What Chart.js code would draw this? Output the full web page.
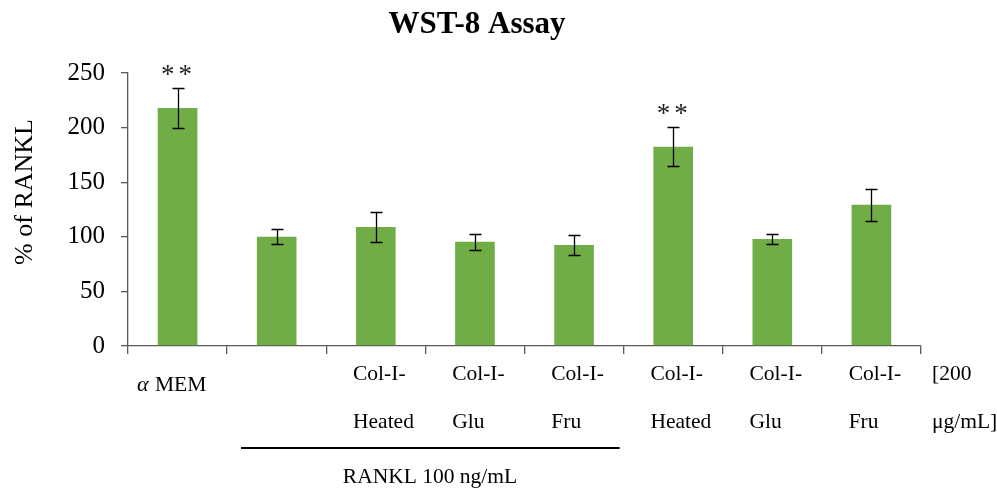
<!DOCTYPE html>
<html>
<head>
<meta charset="utf-8">
<script src="https://cdn.jsdelivr.net/npm/chart.js@4/dist/chart.umd.min.js"></script>
<style>
  html, body { margin: 0; padding: 0; background: #fff; }
  #wrap { width: 997px; height: 493px; position: relative; }
</style>
</head>
<body>
<div id="wrap"><canvas id="c" width="997" height="493"></canvas></div>
<script>
// Category labels (two lines each; first group drawn with a Greek alpha)
const categoryLine1 = ['MEM', '', 'Col-I-', 'Col-I-', 'Col-I-', 'Col-I-', 'Col-I-', 'Col-I-'];
const categoryLine2 = ['', '', 'Heated', 'Glu', 'Fru', 'Heated', 'Glu', 'Fru'];
// Mean cell viability (% of RANKL) and standard deviation
const viability = [218, 100, 109, 95.5, 92.5, 182.5, 98, 129.3];
const errors = [18, 7, 14, 7.2, 9.3, 18, 5, 14.5];
// Significance marks
const significance = ['**', '', '', '', '', '**', '', ''];
// Y axis ticks
const yTicks = [0, 50, 100, 150, 200, 250];
// Grouping bracket for RANKL-treated wells (first and last category index)
const rankGroup = { from: 1, to: 4, text: 'RANKL 100 ng/mL' };
const concText = ['[200', 'μg/mL]'];

const SERIF = '"Liberation Serif", "Times New Roman", serif';
const AXIS = '#595959';

const overlay = {
  id: 'overlay',
  afterDatasetsDraw(chart) {
    const ctx = chart.ctx;
    const y = chart.scales.y;
    const meta = chart.getDatasetMeta(0);
    ctx.save();
    // error bars
    ctx.strokeStyle = '#000';
    ctx.lineWidth = 1.3;
    meta.data.forEach((bar, i) => {
      const v = viability[i], e = errors[i];
      const yt = Math.round(y.getPixelForValue(v + e)) + 0.5;
      const yb = Math.round(y.getPixelForValue(v - e)) + 0.5;
      const cx = Math.round(bar.x) + 0.5;
      ctx.beginPath();
      ctx.moveTo(cx, yt); ctx.lineTo(cx, yb);
      ctx.moveTo(cx - 6, yt); ctx.lineTo(cx + 6, yt);
      ctx.moveTo(cx - 6, yb); ctx.lineTo(cx + 6, yb);
      ctx.stroke();
      if (significance[i]) {
        ctx.fillStyle = '#222';
        ctx.font = '27px ' + SERIF;
        ctx.letterSpacing = '4px';
        ctx.textAlign = 'center';
        ctx.textBaseline = 'alphabetic';
        ctx.fillText(significance[i], bar.x + 1, yt - 6);
        ctx.letterSpacing = '0px';
      }
    });
    ctx.restore();
  },
  afterDraw(chart) {
    const ctx = chart.ctx;
    const x = chart.scales.x;
    const area = chart.chartArea;
    const w = (area.right - area.left) / viability.length;
    ctx.save();
    ctx.fillStyle = '#000';
    // title
    ctx.font = 'bold 31px ' + SERIF;
    ctx.textAlign = 'center';
    ctx.textBaseline = 'alphabetic';
    ctx.fillText('WST-8 Assay', 477, 33);
    // y axis title
    ctx.save();
    ctx.translate(32, 192);
    ctx.rotate(-Math.PI / 2);
    ctx.font = '26px ' + SERIF;
    ctx.textAlign = 'center';
    ctx.fillText('% of RANKL', 0, 0);
    ctx.restore();
    // category labels, left aligned inside each category
    ctx.font = '21.5px ' + SERIF;
    ctx.textAlign = 'left';
    categoryLine1.forEach((t, i) => {
      const left = x.getPixelForValue(i) - w / 2;
      if (i === 0) {
        ctx.font = 'italic 22px ' + SERIF;
        ctx.fillText('α', left + 9, 391);
        ctx.font = '21.5px ' + SERIF;
        ctx.fillText(t, left + 27, 391);
        return;
      }
      const lx = left + 0.27 * w;
      if (t) ctx.fillText(t, lx, 380);
      if (categoryLine2[i]) ctx.fillText(categoryLine2[i], lx, 428);
    });
    // concentration note to the right of the axis
    ctx.fillText(concText[0], area.right + 11, 380);
    ctx.fillText(concText[1], area.right + 11, 428);
    // RANKL group bracket
    const gx0 = x.getPixelForValue(rankGroup.from) - w / 2 + 0.14 * w;
    const gx1 = x.getPixelForValue(rankGroup.to) + w / 2 - 0.04 * w;
    ctx.strokeStyle = '#000';
    ctx.lineWidth = 2;
    ctx.beginPath();
    ctx.moveTo(gx0, 448); ctx.lineTo(gx1, 448);
    ctx.stroke();
    ctx.textAlign = 'center';
    ctx.fillText(rankGroup.text, 430, 483);
    ctx.restore();
  }
};

new Chart(document.getElementById('c'), {
  type: 'bar',
  data: {
    labels: categoryLine2.map((t, i) => (categoryLine1[i] + ' ' + t).trim()),
    datasets: [{
      data: viability,
      backgroundColor: '#70AD47',
      borderWidth: 0,
      categoryPercentage: 1,
      barPercentage: 0.4
    }]
  },
  options: {
    responsive: false,
    animation: false,
    devicePixelRatio: 1,
    layout: { padding: { top: 73, right: 76, left: 0, bottom: 0 } },
    plugins: { legend: { display: false }, title: { display: false }, tooltip: { enabled: false } },
    scales: {
      x: {
        offset: true,
        grid: { offset: true, drawOnChartArea: false, drawTicks: true, tickLength: 8, color: AXIS, lineWidth: 1.3 },
        border: { color: AXIS, width: 1.3 },
        ticks: { display: false },
        afterFit(scale) { scale.height = 147; }
      },
      y: {
        min: 0, max: 250,
        afterBuildTicks(scale) { scale.ticks = yTicks.map(v => ({ value: v })); },
        grid: { drawOnChartArea: false, drawTicks: true, tickLength: 7, color: AXIS, lineWidth: 1.3 },
        border: { color: AXIS, width: 1.3 },
        ticks: { padding: 16, color: '#000', font: { family: SERIF, size: 25 } },
        afterFit(scale) { scale.width = 128; }
      }
    }
  },
  plugins: [overlay]
});
</script>
</body>
</html>
